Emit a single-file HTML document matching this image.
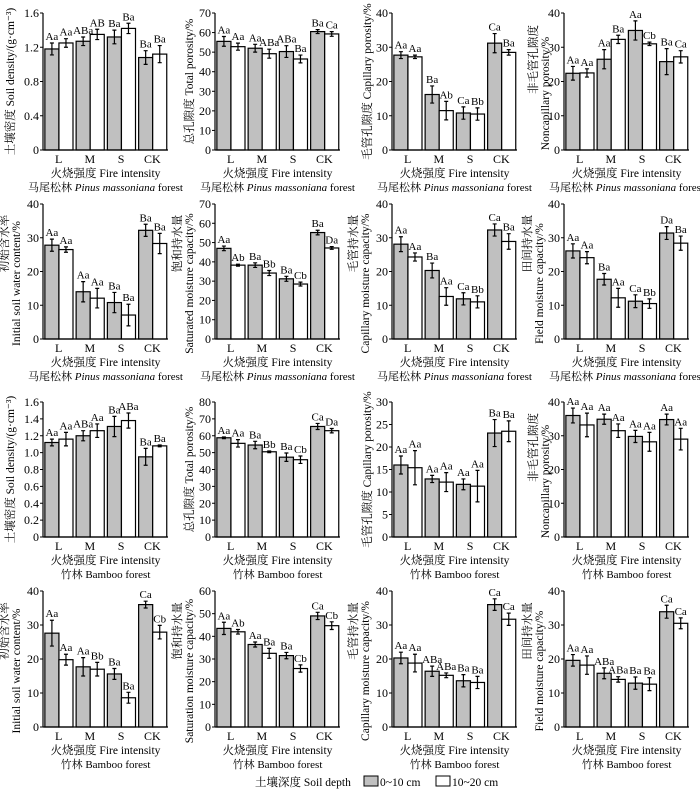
<!DOCTYPE html>
<html><head><meta charset="utf-8">
<style>
html,body{margin:0;padding:0;background:#fff;}
svg{display:block;font-family:"Liberation Serif","Noto Serif CJK SC",serif;}
</style></head>
<body>
<svg id="fig" width="700" height="789" viewBox="0 0 700 789" xmlns="http://www.w3.org/2000/svg"></svg>
<script>
const categories = ["L","M","S","CK"];
// panel data arrays
const p1g=[1.18,1.27,1.32,1.08], p1ge=[.07,.05,.08,.08], p1w=[1.25,1.35,1.42,1.12], p1we=[.05,.06,.06,.1];
const p1gl=["Aa","ABa","Ba","Ba"], p1wl=["Aa","AB","Ba","Ba"];
const p2g=[55.5,52,50.3,60.5], p2ge=[2.5,2,3,1], p2w=[52.8,49.2,46.5,59.3], p2we=[1.8,2.3,2,1.2];
const p2gl=["Aa","Aa","ABa","Ba"], p2wl=["Aa","ABa","Ba","Ca"];
const p3g=[27.7,16.2,10.8,31.2], p3ge=[1,2.5,1.8,2.8], p3w=[27.2,11.5,10.5,28.5], p3we=[.5,2.7,1.8,.8];
const p3gl=["Aa","Ba","Ca","Ca"], p3wl=["Aa","Ab","Bb","Ba"];
const p4g=[22.4,26.5,34.9,25.8], p4ge=[2,2.8,2.8,3.8], p4w=[22.5,32.3,31,27.2], p4we=[1.2,1.2,.5,1.8];
const p4gl=["Aa","Aa","Aa","Ba"], p4wl=["Aa","Ba","Cb","Ca"];
const p5g=[27.8,14,10.8,32.2], p5ge=[1.8,3,3,1.8], p5w=[26.5,12.1,7.1,28.3], p5we=[.8,2.9,3.2,3];
const p5gl=["Aa","Aa","Ba","Ba"], p5wl=["Aa","Aa","Ba","Ba"];
const p6g=[47,38.3,31.2,55.2], p6ge=[1.2,1.2,1.3,1.2], p6w=[38.3,34.2,28.5,47.2], p6we=[.5,1.3,1,.7];
const p6gl=["Aa","Ba","Ba","Ba"], p6wl=["Ab","Bb","Cb","Da"];
const p7g=[28.1,20.3,11.9,32.3], p7ge=[2.2,2.2,1.8,1.8], p7w=[24.3,12.6,11,28.9], p7we=[1.2,2.6,1.8,2.3];
const p7gl=["Aa","Ba","Ca","Ca"], p7wl=["Aa","Aa","Bb","Ba"];
const p8g=[26.1,17.7,11.2,31.4], p8ge=[2.1,1.7,1.9,1.9], p8w=[24.1,12.2,10.5,28.4], p8we=[1.8,2.8,1.4,2.1];
const p8gl=["Aa","Ba","Ca","Da"], p8wl=["Aa","Aa","Bb","Ba"];
const p9g=[1.12,1.20,1.31,0.95], p9ge=[.04,.06,.12,.10], p9w=[1.16,1.26,1.38,1.08], p9we=[.08,.08,.09,.01];
const p9gl=["Aa","ABa","Ba","Ba"], p9wl=["Aa","Aa","ABa","Ba"];
const p10g=[58.8,54.5,47.3,65.5], p10ge=[.5,2.2,2.5,1.8], p10w=[55.5,50.5,45.8,63], p10we=[2.2,.5,2.2,1.3];
const p10gl=["Aa","Ba","Ba","Ca"], p10wl=["Aa","Bb","Cb","Da"];
const p11g=[16,12.9,11.7,23.1], p11ge=[2,.8,1.2,3], p11w=[15.4,12.2,11.3,23.5], p11we=[3.8,2.1,3.5,2.3];
const p11gl=["Aa","Aa","Aa","Ba"], p11wl=["Aa","Aa","Aa","Ba"];
const p12g=[36,34.9,29.8,34.8], p12ge=[2.2,1.5,1.8,1.6], p12w=[33.2,31.5,28.2,29], p12we=[3.5,2,2.8,3.2];
const p12gl=["Aa","Aa","Aa","Aa"], p12wl=["Aa","Aa","Aa","Aa"];
const p13g=[27.6,17.7,15.6,36], p13ge=[3.8,2.7,1.6,1], p13w=[19.8,17,8.6,27.9], p13we=[1.6,2,1.6,2];
const p13gl=["Aa","Aa","Ba","Ca"], p13wl=["Aa","Bb","Ba","Cb"];
const p14g=[43.5,36.4,31.5,49], p14ge=[2.7,1.1,1.4,1.6], p14w=[42,32.5,25.8,44.7], p14we=[1,2.2,1.6,1.7];
const p14gl=["Aa","Aa","Ba","Ca"], p14wl=["Ab","Ba","Cb","Cb"];
const p15g=[20.3,16.4,13.6,36], p15ge=[1.7,1.5,1.8,1.7], p15w=[18.8,15.2,13.1,31.7], p15we=[2.6,.7,1.8,1.8];
const p15gl=["Aa","ABa","Ba","Ca"], p15wl=["Aa","ABa","Ba","Ca"];
const p16g=[19.6,15.8,12.9,33.9], p16ge=[1.7,1.6,1.8,1.9], p16w=[18.2,14,12.6,30.5], p16we=[2.7,.8,1.9,1.6];
const p16gl=["Aa","ABa","Ba","Ca"], p16wl=["Aa","ABa","Ba","Ca"];
const ticks1=["0","0.4","0.8","1.2","1.6"];
const ticks9=["0","0.2","0.4","0.6","0.8","1.0","1.2","1.4","1.6"];
const ticks70=["0","10","20","30","40","50","60","70"];
const ticks80=["0","10","20","30","40","50","60","70","80"];
const ticks40=["0","10","20","30","40"];
const ticks30=["0","5","10","15","20","25","30"];
const ticks60=["0","10","20","30","40","50","60"];

const NS="http://www.w3.org/2000/svg";
const svg=document.getElementById('fig');
function mk(tag,attrs,parent){const e=document.createElementNS(NS,tag);for(const k in attrs)e.setAttribute(k,attrs[k]);(parent||svg).appendChild(e);return e;}
function txt(s,attrs,parent){const e=mk('text',attrs,parent);e.textContent=s;return e;}

const colX=[43,215,392,564];
const rows=[{top:13,bot:150},{top:204,bot:339},{top:402,bot:537},{top:591,bot:727}];
const PW=125;

function panel(idx,col,row,ticks,g,ge,w,we,gl,wl,titles,tx,ty,forest){
  const G=mk('g',{});
  
  
  const x0=colX[col], top=rows[row].top, bot=rows[row].bot;
  const ymax=parseFloat(ticks[ticks.length-1]);
  const y=v=>bot-(v/ymax)*(bot-top);
  const gw=PW/4;
  const xs=i=>x0+gw*i;
  ticks.forEach(t=>{const v=parseFloat(t);const yy=y(v);
    mk('line',{x1:x0-3,x2:x0,y1:yy,y2:yy,stroke:'#000','stroke-width':1},G);
    const tl=txt(t,{x:x0-4,y:yy+4,'font-size':12,'text-anchor':'end',fill:'#000'},G);
    
  });
  categories.forEach((c,i)=>{
    const bx=xs(i)+gw*0.06, bw=gw*0.45;
    const r1=mk('rect',{x:bx,y:y(g[i]),width:bw,height:bot-y(g[i]),fill:'#c0c0c0',stroke:'#000','stroke-width':1.2},G);
    
    const r2=mk('rect',{x:bx+bw,y:y(w[i]),width:bw,height:bot-y(w[i]),fill:'#fff',stroke:'#000','stroke-width':1.2},G);
    
    [[bx+bw/2,g[i],ge[i],gl[i]],[bx+bw*1.5,w[i],we[i],wl[i]]].forEach(([cx,v,e,l])=>{
      const eb=mk('path',{d:`M${cx},${y(v+e)}V${y(v-e)}M${cx-2},${y(v+e)}H${cx+2}M${cx-2},${y(v-e)}H${cx+2}`,stroke:'#000','stroke-width':1.2,fill:'none'},G);
      
      const lt=txt(l,{x:cx,y:y(v+e)-3,'font-size':11,'text-anchor':'middle',fill:'#000'},G);
      
    });
    const cl=txt(c,{x:xs(i)+gw/2,y:bot+13,'font-size':12,'text-anchor':'middle',fill:'#000'},G);
    
  });
  mk('line',{x1:x0,x2:x0,y1:top,y2:bot+0.5,stroke:'#000','stroke-width':1.2},G);
  mk('line',{x1:x0,x2:x0+PW,y1:bot,y2:bot,stroke:'#000','stroke-width':1.2},G);
  const xt=txt('火烧强度 Fire intensity',{x:x0+PW/2,y:bot+27,'font-size':11.5,'text-anchor':'middle',fill:'#000'},G);
  
  const ft=mk('text',{x:x0+PW/2,y:bot+41,'font-size':11,'text-anchor':'middle',fill:'#000'},G);
  
  if(forest===0){ft.innerHTML='马尾松林 <tspan font-style="italic">Pinus massoniana</tspan> forest';}
  else ft.textContent='竹林 Bamboo forest';
  const cy=(top+bot)/2;
  titles.forEach((t,k)=>{
    const xx=tx[k], yy=cy+ty[k];
    const yt=txt(t,{x:xx,y:yy,'font-size':11.5,'text-anchor':'middle',fill:'#000',transform:`rotate(-90 ${xx} ${yy})`},G);
    
  });
}
const T={
 dens:["土壤密度 Soil density/(g·cm⁻³)"],tot:["总孔隙度 Total porosity/%"],cap:["毛管孔隙度 Capillary porosity/%"],
 non:["非毛管孔隙度","Noncapillary porosity/%"],ini:["初始含水率","Initial soil water content/%"],
 sat:["饱和持水量","Saturated moisture capacity/%"],sat2:["饱和持水量","Saturation moisture capacity/%"],
 cm:["毛管持水量","Capillary moisture capacity/%"],fm:["田间持水量","Field moisture capacity/%"]};
const one=[0], two=[-28,12];
panel(1,0,0,ticks1,p1g,p1ge,p1w,p1we,p1gl,p1wl,T.dens,[14],one,0);
panel(2,1,0,ticks70,p2g,p2ge,p2w,p2we,p2gl,p2wl,T.tot,[193],one,0);
panel(3,2,0,ticks40,p3g,p3ge,p3w,p3we,p3gl,p3wl,T.cap,[371],one,0);
panel(4,3,0,ticks40,p4g,p4ge,p4w,p4we,p4gl,p4wl,T.non,[537,549],[-22,12],0);
panel(5,0,1,ticks40,p5g,p5ge,p5w,p5we,p5gl,p5wl,T.ini,[8,20],two,0);
panel(6,1,1,ticks70,p6g,p6ge,p6w,p6we,p6gl,p6wl,T.sat,[181,193],two,0);
panel(7,2,1,ticks40,p7g,p7ge,p7w,p7we,p7gl,p7wl,T.cm,[357,369],two,0);
panel(8,3,1,ticks40,p8g,p8ge,p8w,p8we,p8gl,p8wl,T.fm,[531,543],two,0);
panel(9,0,2,ticks9,p9g,p9ge,p9w,p9we,p9gl,p9wl,T.dens,[14],one,1);
panel(10,1,2,ticks80,p10g,p10ge,p10w,p10we,p10gl,p10wl,T.tot,[193],one,1);
panel(11,2,2,ticks30,p11g,p11ge,p11w,p11we,p11gl,p11wl,T.cap,[371],one,1);
panel(12,3,2,ticks40,p12g,p12ge,p12w,p12we,p12gl,p12wl,T.non,[537,549],[-22,12],1);
panel(13,0,3,ticks40,p13g,p13ge,p13w,p13we,p13gl,p13wl,T.ini,[8,20],two,1);
panel(14,1,3,ticks60,p14g,p14ge,p14w,p14we,p14gl,p14wl,T.sat2,[181,193],two,1);
panel(15,2,3,ticks40,p15g,p15ge,p15w,p15we,p15gl,p15wl,T.cm,[357,369],two,1);
panel(16,3,3,ticks40,p16g,p16ge,p16w,p16we,p16gl,p16wl,T.fm,[531,543],two,1);
// legend
const L=mk('g',{});


const lt=txt('土壤深度 Soil depth',{x:255,y:786,'font-size':11.5,fill:'#000'},L);

const lb1=mk('rect',{x:364,y:776,width:14,height:10,fill:'#c0c0c0',stroke:'#000','stroke-width':1},L);

const l1=txt('0~10 cm',{x:380,y:786,'font-size':11.5,fill:'#000'},L);

const lb2=mk('rect',{x:436,y:776,width:14,height:10,fill:'#fff',stroke:'#000','stroke-width':1},L);

const l2=txt('10~20 cm',{x:452,y:786,'font-size':11.5,fill:'#000'},L);

</script>
</body></html>
